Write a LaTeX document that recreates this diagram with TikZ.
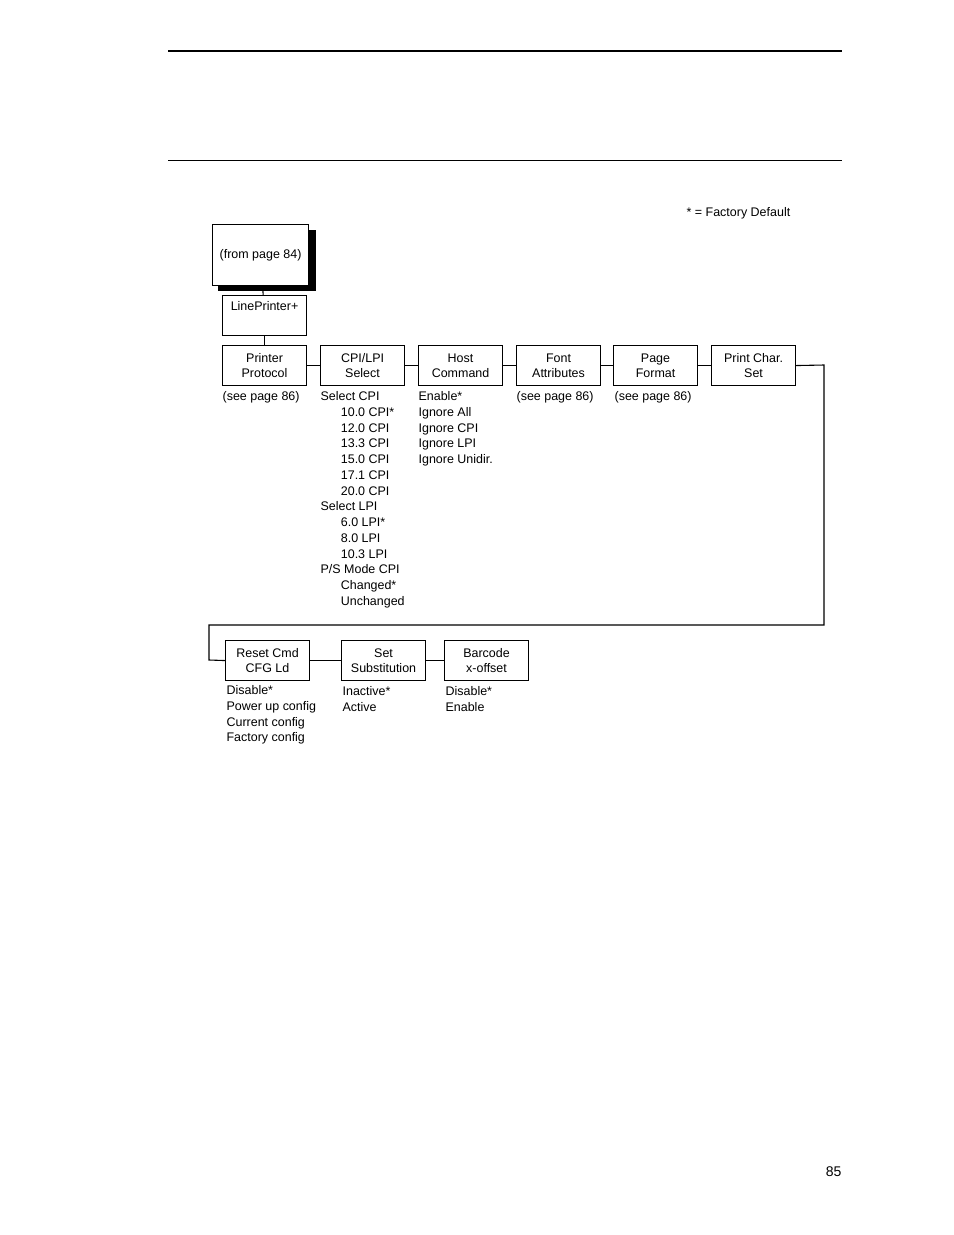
\documentclass[tikz,border=0pt]{standalone}
\usepackage{fontspec}
\setmainfont{Liberation Sans}
\usetikzlibrary{positioning}
\begin{document}
\begin{tikzpicture}[x=0.6415pt,y=-0.6415pt,thick,
    menu/.style={draw, line width=0.7pt, minimum width=84*0.6415pt, minimum height=40*0.6415pt, align=center, inner sep=1pt, font=\fontsize{8}{9.6}\selectfont},
    lst/.style={anchor=north west, align=left, inner sep=0pt, font=\fontsize{8}{10.1}\selectfont},
    wire/.style={line width=0.7pt}]
  \useasboundingbox (0,0) rectangle (954,1235);
  % rules
  \draw[line width=1.4pt] (168,51) -- (842,51);
  \draw[line width=0.6pt] (168,160) -- (842,160);
  \node[lst, anchor=west] (dflt) at (686,213) {* = Factory Default};
  % top boxes
  \fill (218,230) rectangle (316,291);
  \node[menu, fill=white, anchor=north west, minimum width=96*0.6415pt, minimum height=61*0.6415pt] (from) at (212,224) {(from page 84)};
  \node[menu, anchor=north west, text depth=12pt] (lp) at (222,295) {LinePrinter+};
  \draw[wire] (from) -- (lp);
  % first row
  \node[menu, anchor=north west] (prot) at (222,345) {Printer\\Protocol};
  \node[menu, anchor=north west] (cpi) at (320,345) {CPI/LPI\\Select};
  \node[menu, anchor=north west] (host) at (418,345) {Host\\Command};
  \node[menu, anchor=north west] (font) at (516,345) {Font\\Attributes};
  \node[menu, anchor=north west] (page) at (613,345) {Page\\Format};
  \node[menu, anchor=north west] (pchar) at (711,345) {Print Char.\\Set};
  \draw[wire] (lp) -- (prot);
  \draw[wire] (prot) -- (cpi);
  \draw[wire] (cpi) -- (host);
  \draw[wire] (host) -- (font);
  \draw[wire] (font) -- (page);
  \draw[wire] (page) -- (pchar);
  % second row
  \node[menu, anchor=north west] (reset) at (225,640) {Reset Cmd\\CFG Ld};
  \node[menu, anchor=north west] (subst) at (341,640) {Set\\Substitution};
  \node[menu, anchor=north west] (barc) at (444,640) {Barcode\\x-offset};
  \draw[wire] (pchar.east) -- (824,365) -- (824,625) -- (209,625) -- (209,660) -- (reset.west);
  \draw[wire] (reset) -- (subst);
  \draw[wire] (subst) -- (barc);
  % option lists
  \node[lst] (protl) at (222,391) {(see page 86)};
  \node[lst] (cpil) at (320,391) {Select CPI\\\hspace{13pt}10.0 CPI*\\\hspace{13pt}12.0 CPI\\\hspace{13pt}13.3 CPI\\\hspace{13pt}15.0 CPI\\\hspace{13pt}17.1 CPI\\\hspace{13pt}20.0 CPI\\Select LPI\\\hspace{13pt}6.0 LPI*\\\hspace{13pt}8.0 LPI\\\hspace{13pt}10.3 LPI\\P/S Mode CPI\\\hspace{13pt}Changed*\\\hspace{13pt}Unchanged};
  \node[lst] (hostl) at (418,391) {Enable*\\Ignore All\\Ignore CPI\\Ignore LPI\\Ignore Unidir.};
  \node[lst] (fontl) at (516,391) {(see page 86)};
  \node[lst] (pagel) at (614,391) {(see page 86)};
  \node[lst] (resetl) at (226,685) {Disable*\\Power up config\\Current config\\Factory config};
  \node[lst] (substl) at (342,686) {Inactive*\\Active};
  \node[lst] (barcl) at (445,686) {Disable*\\Enable};
  \node[lst, anchor=east, font=\fontsize{9}{11}\selectfont] (pnum) at (842,1172) {85};
\end{tikzpicture}
\end{document}
